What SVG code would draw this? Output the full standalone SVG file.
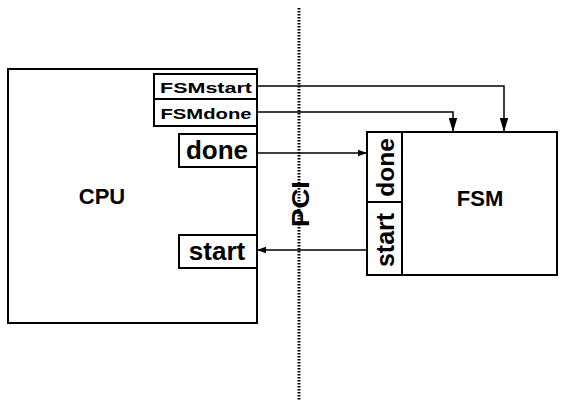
<svg xmlns="http://www.w3.org/2000/svg" width="564" height="401" viewBox="0 0 564 401">
<defs>
<style>
.box{fill:#fff;stroke:#000;stroke-width:2}
.t{font-family:"Liberation Sans",Arial,sans-serif;font-weight:bold;fill:#000;text-anchor:middle;dominant-baseline:central}
.w{stroke:#000;stroke-width:1.5;fill:none}
.pci{stroke:#000;stroke-width:3;stroke-dasharray:1.5 1.5;fill:none}
</style>
<marker id="ah" viewBox="0 0 10 10" refX="10" refY="5" markerWidth="9" markerHeight="9" markerUnits="userSpaceOnUse" orient="auto">
<path d="M0,1.5 L10,5 L0,8.5 Z" fill="#000"/>
</marker>
<marker id="ahv" viewBox="0 0 10 10" refX="10" refY="5" markerWidth="14" markerHeight="14" markerUnits="userSpaceOnUse" orient="auto">
<path d="M0,2 L10,5 L0,8 Z" fill="#000"/>
</marker>
</defs>
<rect width="564" height="401" fill="#fff"/>
<g id="pci">
<line class="pci" x1="299" y1="8" x2="299" y2="401"/>
<text class="t" font-size="23" transform="translate(301,204) rotate(-90)" textLength="46" lengthAdjust="spacingAndGlyphs">PCI</text>
</g>
<g id="connectors">
<polyline class="w" points="257,86 504,86 504,132" marker-end="url(#ahv)"/>
<polyline class="w" points="257,112 453,112 453,132" marker-end="url(#ahv)"/>
<line class="w" x1="257" y1="153" x2="367" y2="153" marker-end="url(#ah)"/>
<line class="w" x1="367" y1="250" x2="257" y2="250" marker-end="url(#ah)"/>
</g>
<g id="cpu">
<rect class="box" x="8" y="69" width="249" height="254"/>
<text class="t" x="102" y="196" font-size="22">CPU</text>
</g>
<g id="cpu-fsmstart">
<rect class="box" x="154" y="74" width="103" height="25"/>
<text class="t" x="206" y="87" font-size="15" textLength="92" lengthAdjust="spacingAndGlyphs">FSMstart</text>
</g>
<g id="cpu-fsmdone">
<rect class="box" x="154" y="99" width="103" height="27"/>
<text class="t" x="206" y="113" font-size="15" textLength="91" lengthAdjust="spacingAndGlyphs">FSMdone</text>
</g>
<g id="cpu-done">
<rect class="box" x="179" y="134" width="78" height="33"/>
<text class="t" x="217" y="150" font-size="26">done</text>
</g>
<g id="cpu-start">
<rect class="box" x="179" y="235" width="78" height="33"/>
<text class="t" x="217" y="251" font-size="26">start</text>
</g>
<g id="fsm">
<rect class="box" x="367" y="132" width="190" height="143"/>
<text class="t" x="480" y="198" font-size="22">FSM</text>
</g>
<g id="fsm-done">
<rect class="box" x="367" y="132" width="35" height="70"/>
<text class="t" font-size="24.5" transform="translate(385,167.5) rotate(-90)">done</text>
</g>
<g id="fsm-start">
<rect class="box" x="367" y="202" width="35" height="73"/>
<text class="t" font-size="25" transform="translate(385,240) rotate(-90)">start</text>
</g>
</svg>
